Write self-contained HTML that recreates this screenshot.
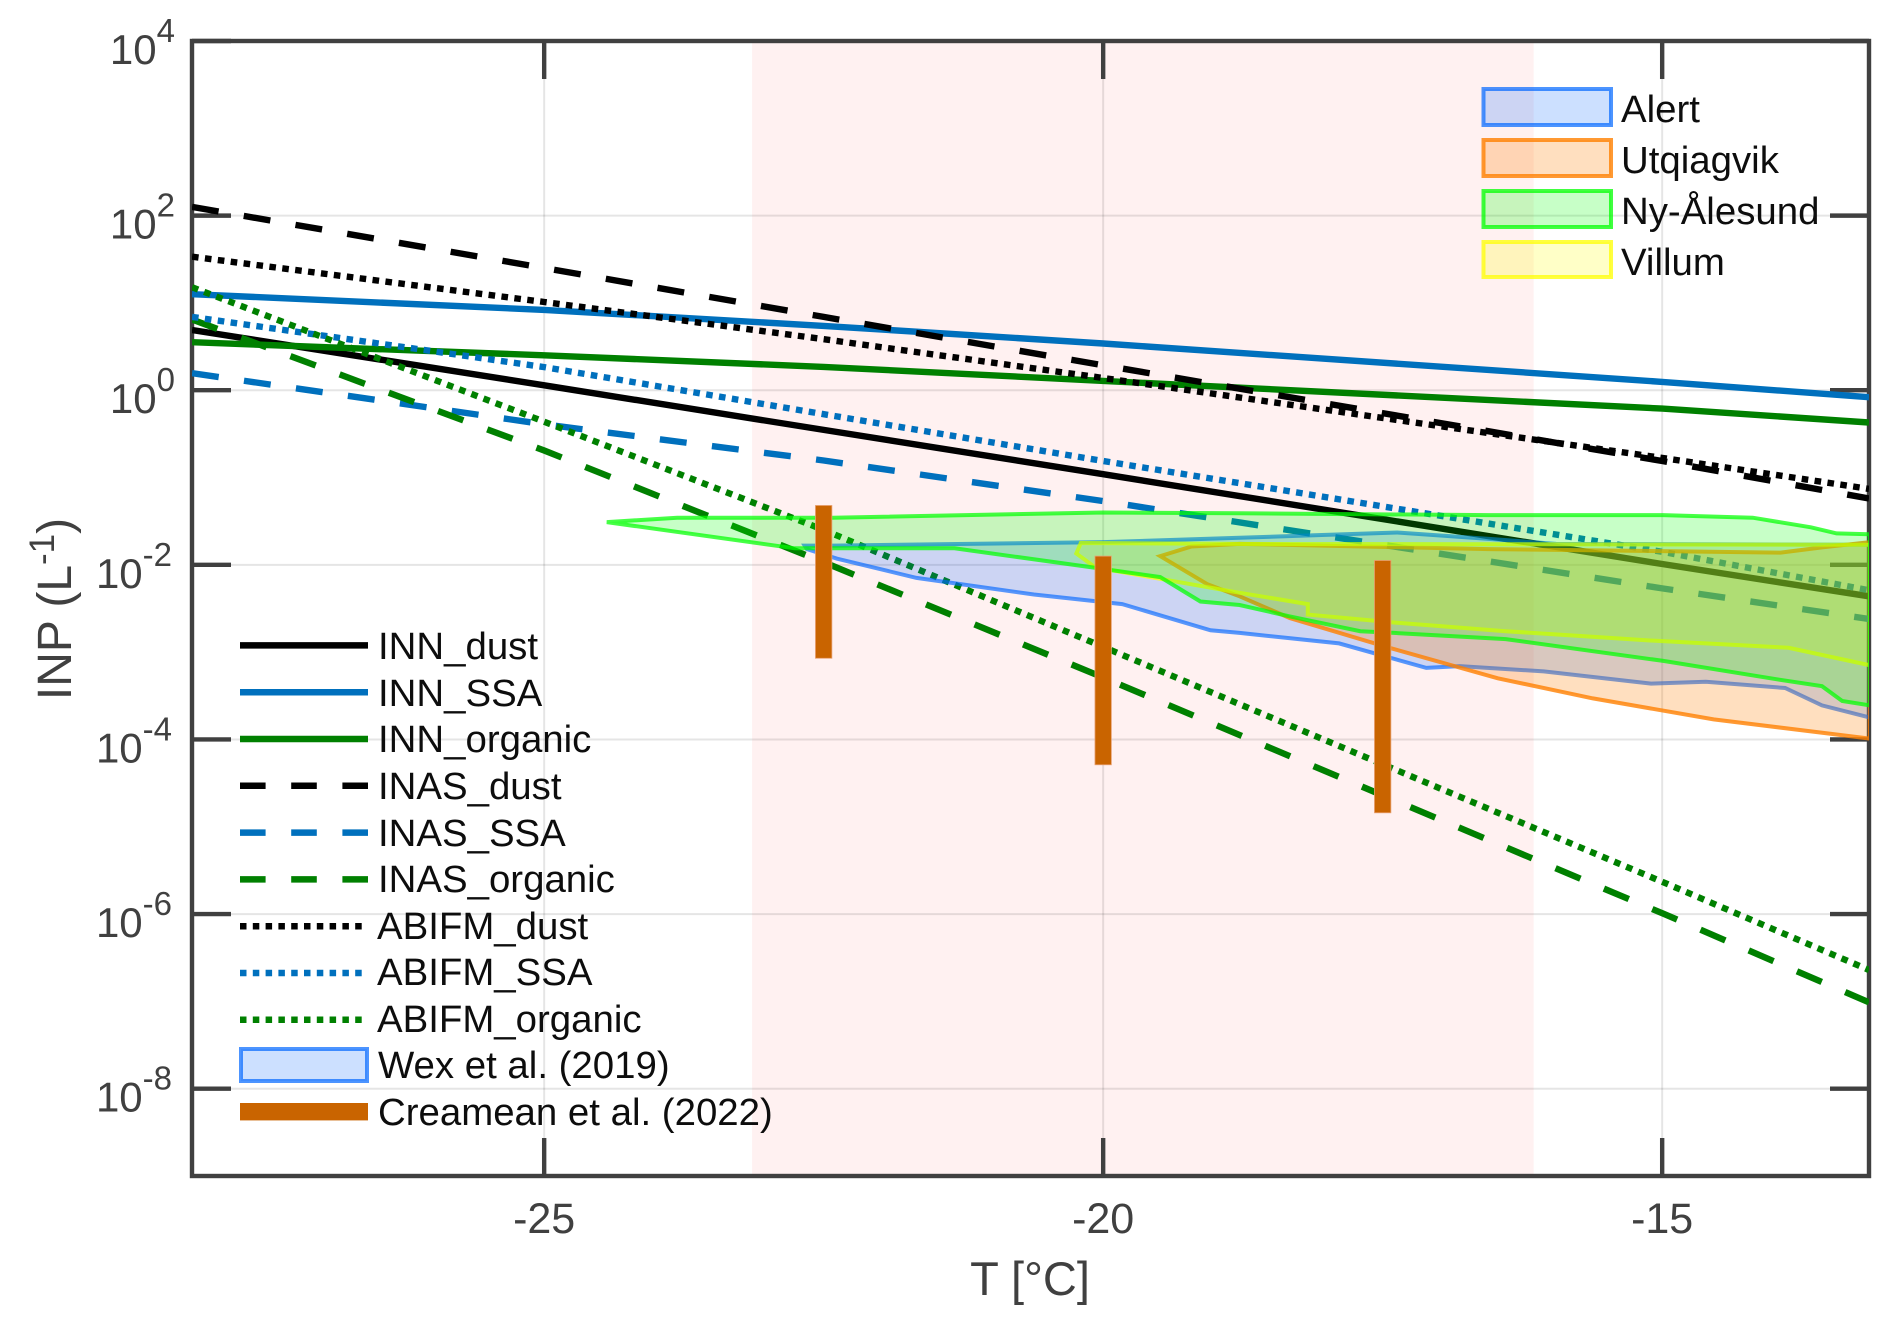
<!DOCTYPE html>
<html lang="en">
<head>
<meta charset="utf-8">
<title>INP vs temperature</title>
<style>
html,body{margin:0;padding:0;background:#fff;width:1892px;height:1320px;overflow:hidden}
svg{display:block;font-family:"Liberation Sans",Arial,sans-serif}
.leg{font-size:38.4px;fill:#0d0d0d}
</style>
</head>
<body>
<svg id="chart" xmlns="http://www.w3.org/2000/svg" width="1892" height="1320" viewBox="0 0 1892 1320">
  <defs>
    <clipPath id="plot-clip"><rect x="192" y="41" width="1677" height="1135"></rect></clipPath>
  </defs>
  <rect x="0" y="0" width="1892" height="1320" fill="#ffffff"></rect>
  <g id="layer-band"></g>
  <g id="layer-grid"></g>
  <g id="layer-axes"></g>
  <g id="layer-lines" clip-path="url(#plot-clip)"></g>
  <g id="layer-fills" clip-path="url(#plot-clip)"></g>
  <g id="layer-bars"></g>

  <text x="1030" y="1295" text-anchor="middle" font-size="47" fill="#404040">T [°C]</text>
  <text transform="translate(71,609) rotate(-90)" text-anchor="middle" font-size="48" fill="#404040">INP (L<tspan dy="-17" font-size="35">-1</tspan><tspan dy="17">)</tspan></text>

  <g>
    <line x1="240" x2="368" y1="645.4" y2="645.4" stroke="#000000" stroke-width="6.5"></line>
    <text class="leg" x="378" y="659">INN_dust</text>
    <line x1="240" x2="368" y1="692.2" y2="692.2" stroke="#0070bd" stroke-width="6.5"></line>
    <text class="leg" x="378" y="706">INN_SSA</text>
    <line x1="240" x2="368" y1="739" y2="739" stroke="#008000" stroke-width="6.5"></line>
    <text class="leg" x="378" y="752">INN_organic</text>
    <line x1="240" x2="368" y1="785.8" y2="785.8" stroke="#000000" stroke-width="6.5" stroke-dasharray="25.6 25.6"></line>
    <text class="leg" x="378" y="799">INAS_dust</text>
    <line x1="240" x2="368" y1="832.6" y2="832.6" stroke="#0070bd" stroke-width="6.5" stroke-dasharray="25.6 25.6"></line>
    <text class="leg" x="378" y="846">INAS_SSA</text>
    <line x1="240" x2="368" y1="879.4" y2="879.4" stroke="#008000" stroke-width="6.5" stroke-dasharray="25.6 25.6"></line>
    <text class="leg" x="378" y="892">INAS_organic</text>
    <line x1="240" x2="364" y1="926.2" y2="926.2" stroke="#000000" stroke-width="6.5" stroke-dasharray="6.5 6.3"></line>
    <text class="leg" x="377" y="939">ABIFM_dust</text>
    <line x1="240" x2="364" y1="973" y2="973" stroke="#0070bd" stroke-width="6.5" stroke-dasharray="6.5 6.3"></line>
    <text class="leg" x="377" y="985">ABIFM_SSA</text>
    <line x1="240" x2="364" y1="1019.8" y2="1019.8" stroke="#008000" stroke-width="6.5" stroke-dasharray="6.5 6.3"></line>
    <text class="leg" x="377" y="1032">ABIFM_organic</text>
    <rect x="241" y="1049" width="126" height="32" fill="#0066ff" fill-opacity="0.2" stroke="#0066ff" stroke-opacity="0.7" stroke-width="4"></rect>
    <text class="leg" x="378" y="1078">Wex et al. (2019)</text>
    <rect x="240" y="1103" width="128" height="17.4" fill="#c96400"></rect>
    <text class="leg" x="378" y="1125">Creamean et al. (2022)</text>
  </g>

  <g>
    <rect x="1483.5" y="89" width="127.5" height="36" fill="#0066ff" fill-opacity="0.2" stroke="#0066ff" stroke-opacity="0.7" stroke-width="4"></rect>
    <text class="leg" x="1621" y="122">Alert</text>
    <rect x="1483.5" y="140" width="127.5" height="36" fill="#ff8000" fill-opacity="0.25" stroke="#ff8000" stroke-opacity="0.8" stroke-width="4"></rect>
    <text class="leg" x="1621" y="173">Utqiagvik</text>
    <rect x="1483.5" y="191" width="127.5" height="36" fill="#00ff00" fill-opacity="0.22" stroke="#00ff00" stroke-opacity="0.75" stroke-width="4"></rect>
    <text class="leg" x="1621" y="224">Ny-Ålesund</text>
    <rect x="1483.5" y="242" width="127.5" height="35" fill="#ffff00" fill-opacity="0.22" stroke="#ffff00" stroke-opacity="0.75" stroke-width="4"></rect>
    <text class="leg" x="1621" y="275">Villum</text>
  </g>
</svg>

<script>
// ---- axis ranges and ticks (T in deg C, INP as log10 of L^-1) ----
const tempDomain = [-28.15, -13.15];
const logInpDomain = [-9, 4];
const xTickValues = [-25, -20, -15];
const xTickLabels = ['-25', '-20', '-15'];
const yTickExponents = [4, 2, 0, -2, -4, -6, -8];
const yTickLabels = ['4', '2', '0', '-2', '-4', '-6', '-8'];
const highlightBand = [-23.14, -16.15];

// ---- parameterisation curves: log10(INP) at each sample temperature ----
const curveT = [-28.15, -25, -22.5, -20, -15, -13.15];
const innDust = [0.69, 0.057, -0.454, -0.962, -1.99, -2.36];
const innSsa = [1.10, 0.92, 0.737, 0.535, 0.095, -0.08];
const innOrganic = [0.55, 0.40, 0.267, 0.107, -0.21, -0.37];
const inasDust = [2.10, 1.40, 0.84, 0.286, -0.81, -1.24];
const inasSsa = [0.195, -0.39, -0.805, -1.27, -2.27, -2.62];
const inasOrganic = [0.81, -0.69, -1.97, -3.29, -5.99, -7.01];
const abifmDust = [1.53, 1.01, 0.584, 0.14, -0.775, -1.13];
const abifmSsa = [0.84, 0.265, -0.275, -0.81, -1.85, -2.29];
const abifmOrganic = [1.18, -0.36, -1.60, -2.94, -5.63, -6.64];

// ---- station ranges ----
const alertUpperT = [-22.67, -22.42, -20, -18.78, -18.11, -17.37, -16.47, -15.95, -13.14];
const alertUpperLog = [-1.78, -1.78, -1.74, -1.69, -1.66, -1.63, -1.71, -1.76, -1.77];
const alertLowerT = [-22.65, -22.38, -21.67, -20.62, -19.83, -19.04, -18.78, -17.89, -17.11, -16.81, -16.06, -15.10, -14.61, -13.90, -13.57, -13.14];
const alertLowerLog = [-1.82, -1.93, -2.15, -2.34, -2.45, -2.75, -2.78, -2.90, -3.18, -3.16, -3.22, -3.36, -3.34, -3.41, -3.61, -3.75];

const utqUpperT = [-19.49, -19.21, -18.78, -16.55, -13.94, -13.57, -13.14];
const utqUpperLog = [-1.90, -1.79, -1.76, -1.82, -1.86, -1.80, -1.74];
const utqLowerT = [-19.07, -18.78, -18.33, -17.44, -16.47, -15.62, -14.54, -13.14];
const utqLowerLog = [-2.22, -2.36, -2.61, -2.95, -3.30, -3.53, -3.77, -3.99];

const nyUpperT = [-24.44, -23.81, -22.42, -20, -18.78, -16.55, -14.99, -14.19, -13.67, -13.44, -13.14];
const nyUpperLog = [-1.51, -1.46, -1.46, -1.40, -1.41, -1.43, -1.43, -1.46, -1.57, -1.64, -1.65];
const nyLowerT = [-22.76, -21.33, -20.09, -19.49, -19.13, -18.78, -18.33, -17.70, -17.40, -16.40, -14.99, -13.98, -13.57, -13.39, -13.14];
const nyLowerLog = [-1.81, -1.81, -2.03, -2.14, -2.42, -2.46, -2.59, -2.76, -2.78, -2.85, -3.10, -3.31, -3.39, -3.56, -3.61];

const villumUpperT = [-20.20, -18.78, -13.14];
const villumUpperLog = [-1.75, -1.76, -1.77];
const villumLowerT = [-20.24, -20.07, -19.49, -18.78, -18.17, -18.17, -17.40, -16.40, -15.06, -13.87, -13.14];
const villumLowerLog = [-1.87, -2.03, -2.16, -2.32, -2.45, -2.57, -2.66, -2.76, -2.87, -2.95, -3.15];

// ---- Creamean et al. (2022) ranges ----
const barT = [-22.5, -20, -17.5];
const barHighLog = [-1.32, -1.90, -1.95];
const barLowLog = [-3.07, -4.29, -4.84];

// ---- axis functions ----
const plotLeft = 192, plotRight = 1869, plotTop = 41, plotBottom = 1176;
function xOf(t) {
  return plotLeft + (t - tempDomain[0]) / (tempDomain[1] - tempDomain[0]) * (plotRight - plotLeft);
}
function yOf(e) {
  return plotBottom - (e - logInpDomain[0]) / (logInpDomain[1] - logInpDomain[0]) * (plotBottom - plotTop);
}

const SVG_NS = 'http://www.w3.org/2000/svg';
function make(tag, parent, attrs) {
  const node = document.createElementNS(SVG_NS, tag);
  for (const k in attrs) node.setAttribute(k, attrs[k]);
  parent.appendChild(node);
  return node;
}
const layerBand = document.getElementById('layer-band');
const layerGrid = document.getElementById('layer-grid');
const layerAxes = document.getElementById('layer-axes');
const layerLines = document.getElementById('layer-lines');
const layerFills = document.getElementById('layer-fills');
const layerBars = document.getElementById('layer-bars');

// highlight band
{
  const el = make('rect', layerBand, {x: xOf(highlightBand[0]), y: plotTop, width: xOf(highlightBand[1]) - xOf(highlightBand[0]), height: plotBottom - plotTop, fill: '#fff1f1'});
  
  
}

// grid lines, ticks, tick labels
xTickValues.forEach(function (t, i) {
  const g = make('line', layerGrid, {x1: xOf(t), x2: xOf(t), y1: plotTop, y2: plotBottom, stroke: '#000000', 'stroke-opacity': 0.1, 'stroke-width': 2});
  
  
  const bottom = make('line', layerAxes, {x1: xOf(t), x2: xOf(t), y1: plotBottom, y2: plotBottom - 38, stroke: '#404040', 'stroke-width': 4.4});
  
  
  const top = make('line', layerAxes, {x1: xOf(t), x2: xOf(t), y1: plotTop, y2: plotTop + 38, stroke: '#404040', 'stroke-width': 4.4});
  
  
  const label = make('text', layerAxes, {x: xOf(t), y: 1233, 'text-anchor': 'middle', 'font-size': 43, fill: '#404040'});
  label.textContent = xTickLabels[i];
  
  
});

yTickExponents.forEach(function (e, i) {
  const y = yOf(e);
  const g = make('line', layerGrid, {x1: plotLeft, x2: plotRight, y1: y, y2: y, stroke: '#000000', 'stroke-opacity': 0.1, 'stroke-width': 2});
  
  
  const left = make('line', layerAxes, {x1: plotLeft, x2: plotLeft + 39, y1: y, y2: y, stroke: '#404040', 'stroke-width': 4.4});
  
  
  const right = make('line', layerAxes, {x1: plotRight, x2: plotRight - 39, y1: y, y2: y, stroke: '#404040', 'stroke-width': 4.4});
  
  
  const label = make('text', layerAxes, {x: e < 0 ? 172 : 175, y: y + 23, 'text-anchor': 'end', 'font-size': 42, fill: '#404040'});
  
  
  const base = make('tspan', label, {});
  base.textContent = '10';
  const sup = make('tspan', label, {dy: -22, 'font-size': 33});
  sup.textContent = yTickLabels[i];
});

// axes frame
{
  const frame = make('rect', layerAxes, {x: plotLeft, y: plotTop, width: plotRight - plotLeft, height: plotBottom - plotTop, fill: 'none', stroke: '#404040', 'stroke-width': 4.4});
  
  
}

// model curves
const DASH = '27 25.5';
const DOT = '6.6 6.4';
function drawCurve(values, color, dash, name) {
  const pts = curveT.map(function (t, i) { return xOf(t).toFixed(1) + ',' + yOf(values[i]).toFixed(1); }).join(' ');
  const el = make('polyline', layerLines, {points: pts, fill: 'none', stroke: color, 'stroke-width': 6.4});
  if (dash) el.setAttribute('stroke-dasharray', dash);
  
  
}
drawCurve(innDust, '#000000', null, 'line-inn-dust');
drawCurve(innSsa, '#0070bd', null, 'line-inn-ssa');
drawCurve(innOrganic, '#008000', null, 'line-inn-organic');
drawCurve(inasDust, '#000000', DASH, 'line-inas-dust');
drawCurve(inasSsa, '#0070bd', DASH, 'line-inas-ssa');
drawCurve(inasOrganic, '#008000', DASH, 'line-inas-organic');
drawCurve(abifmDust, '#000000', DOT, 'line-abifm-dust');
drawCurve(abifmSsa, '#0070bd', DOT, 'line-abifm-ssa');
drawCurve(abifmOrganic, '#008000', DOT, 'line-abifm-organic');

// station ranges
function drawRange(upT, upV, loT, loV, color, fillA, edgeA, name) {
  const pts = [];
  upT.forEach(function (t, i) { pts.push(xOf(t).toFixed(1) + ',' + yOf(upV[i]).toFixed(1)); });
  for (let i = loT.length - 1; i >= 0; i--) pts.push(xOf(loT[i]).toFixed(1) + ',' + yOf(loV[i]).toFixed(1));
  const el = make('polygon', layerFills, {points: pts.join(' '), fill: color, 'fill-opacity': fillA, stroke: color, 'stroke-opacity': edgeA, 'stroke-width': 4, 'stroke-linejoin': 'miter'});
  
  
}
drawRange(alertUpperT, alertUpperLog, alertLowerT, alertLowerLog, '#0066ff', 0.2, 0.65, 'range-alert');
drawRange(utqUpperT, utqUpperLog, utqLowerT, utqLowerLog, '#ff8000', 0.25, 0.8, 'range-utqiagvik');
drawRange(villumUpperT, villumUpperLog, villumLowerT, villumLowerLog, '#ffff00', 0.22, 0.75, 'range-villum');
drawRange(nyUpperT, nyUpperLog, nyLowerT, nyLowerLog, '#00ff00', 0.22, 0.72, 'range-ny-alesund');

// Creamean bars
barT.forEach(function (t, i) {
  const el = make('rect', layerBars, {x: xOf(t) - 8.2, y: yOf(barHighLog[i]), width: 16.4, height: yOf(barLowLog[i]) - yOf(barHighLog[i]), fill: '#c96400', stroke: '#e8a070', 'stroke-width': 0.8});
  
  
});
</script>
</body>
</html>
